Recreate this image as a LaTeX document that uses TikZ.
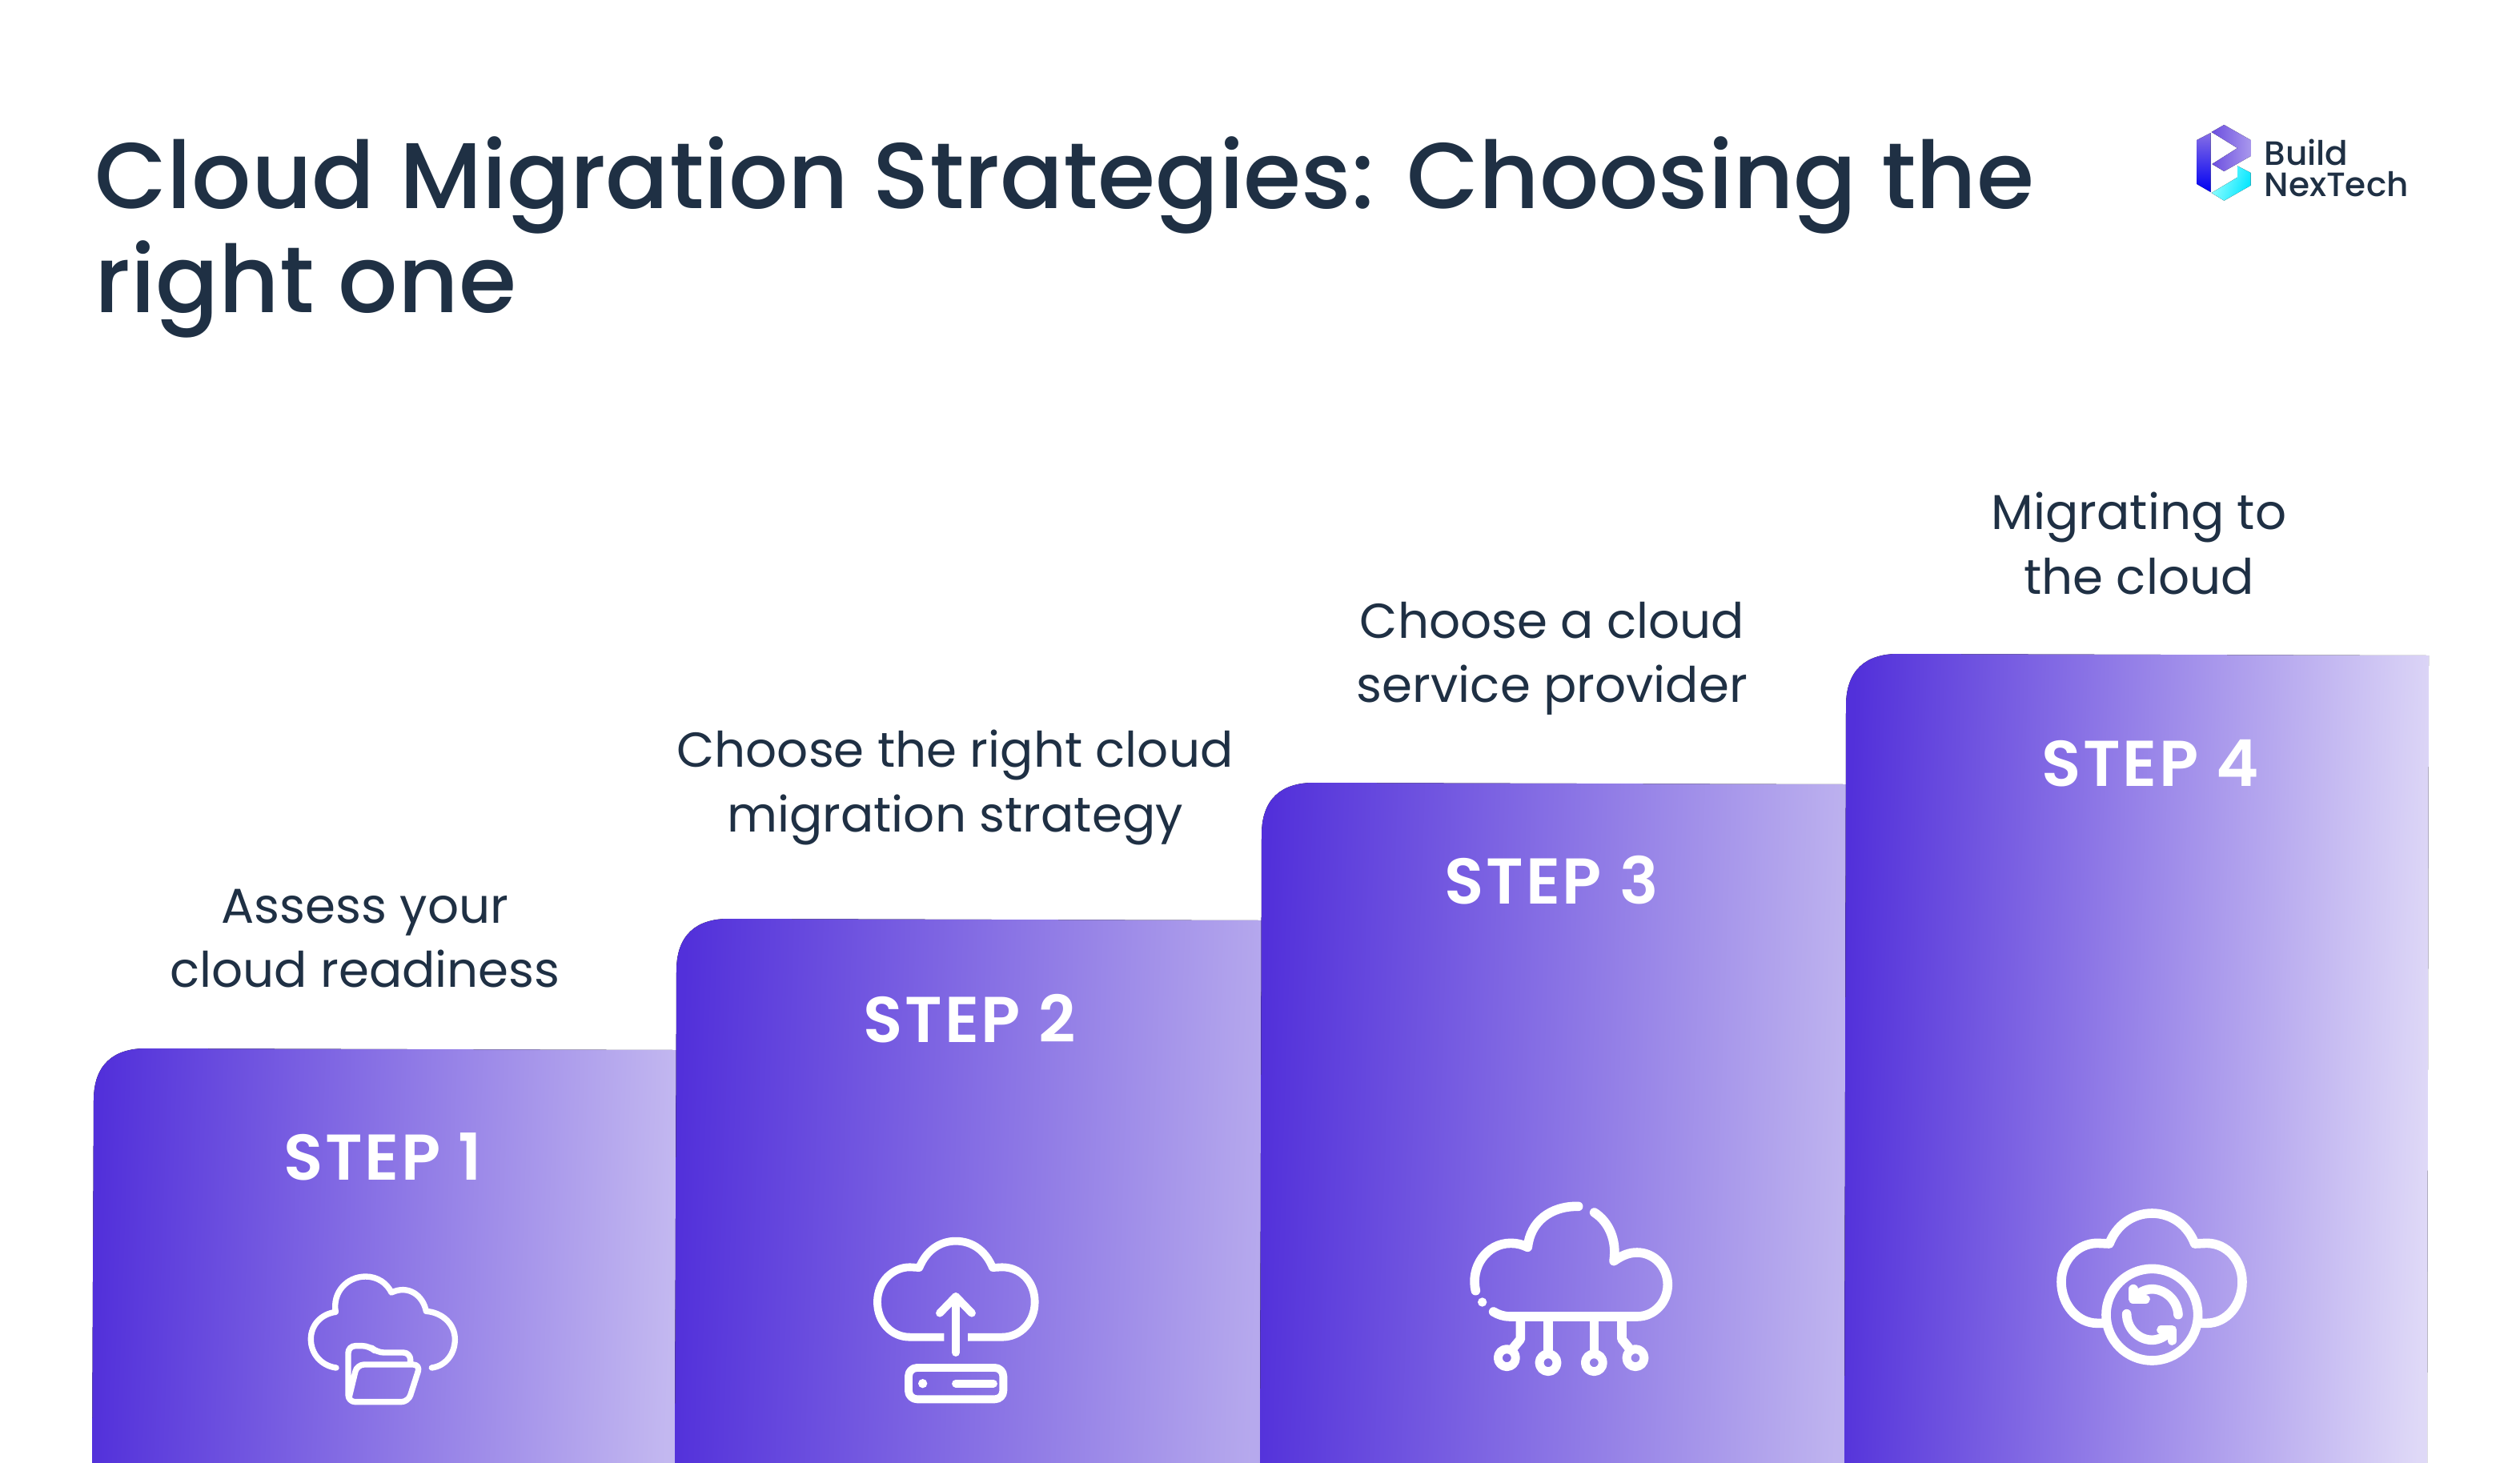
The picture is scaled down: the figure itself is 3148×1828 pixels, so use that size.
\documentclass[tikz,border=0pt]{standalone}
\usepackage{fontspec}
\setmainfont{Poppins}
\newfontfamily\titlefont{Poppins Medium}
\newfontfamily\stepfont[LetterSpace=3.5]{Poppins SemiBold}
\definecolor{inkblue}{HTML}{1F3044}
\definecolor{stepblue}{HTML}{5230DA}
\tikzset{
  titletext/.style={inkblue, anchor=west, align=left, inner sep=0pt, font=\titlefont\fontsize{33.2}{37}\selectfont},
  desctext/.style={inkblue, align=center, inner sep=0pt, font=\fontsize{17.4}{22.8}\selectfont},
  steptext/.style={white, inner sep=0pt, font=\stepfont\fontsize{23}{23}\selectfont},
  brandtext/.style={inkblue, anchor=west, align=left, inner sep=0pt, font=\titlefont\fontsize{12}{11.1}\selectfont},
  iconline/.style={white, line cap=round, line join=round}
}
\begin{document}
\begin{tikzpicture}[x=0.1mm, y=-0.1mm]
  \useasboundingbox (0,0) rectangle (3148,1828);
  % Title
  \node[titletext] (title) at (118,296) {Cloud Migration Strategies: Choosing the\\right one};
  % Logo
  \begin{scope}[shift={(2680,130)}, scale=1/3]
    \fill[bottom color=blue!95!black, top color=stepblue!70!white] (193,135) -- (245,108) -- (245,330) -- (193,300) -- cycle;
    \fill[left color=stepblue!85!white, right color=stepblue!50!white] (248,105) -- (295,78) -- (395,135) -- (395,195) -- (295,252) -- (250,225) -- (345,165) -- cycle;
    \fill[left color=cyan!40!white, right color=cyan!90!blue, shading angle=70] (345,232) -- (395,258) -- (395,305) -- (295,362) -- (248,333) -- (345,275) -- cycle;
  \end{scope}
  \node[brandtext] (brand) at (2828,210) {Build\\NexTech};
  % Steps
  \foreach \i/\xa/\xb/\ytop/\rightcol/\xstep/\ystep/\xdesc/\ydesc/\desc in {
    1/117/845/1310/C3B8F0/478/1445/456/1173/{Assess your\\cloud readiness},
    2/845/1576/1148/B6A9ED/1211/1273/1193/984/{Choose the right cloud\\migration strategy},
    3/1576/2306/978/BFB4EF/1938/1100/1939/823/{Choose a cloud\\service provider},
    4/2306/3034/817/DFD9F7/2686/954/2672/679/{Migrating to\\the cloud}} {
    \definecolor{rightcol}{HTML}{\rightcol}
    \fill[left color=stepblue, right color=rightcol, shading angle=88]
      (\xa-2,1828) -- (\xa,\ytop+65) .. controls (\xa,\ytop+20) and (\xa+25,\ytop) .. (\xa+65,\ytop)
      -- (\xb,\ytop+2) -- (\xb-2,1828) -- cycle;
    \node[steptext] (step\i) at (\xstep,\ystep) {STEP \i};
    \node[desctext] (desc\i) at (\xdesc,\ydesc) {\desc};
  }
  % Cloud with folder
  \begin{scope}[shift={(340,1560)}, scale=1/3, iconline, line width=2.1pt]
    \draw (240,447) .. controls (185,440) and (145,395) .. (145,340) .. controls (145,285) and (185,245) .. (238,238)
      .. controls (225,165) and (280,105) .. (350,105) .. controls (395,105) and (430,130) .. (447,165)
      .. controls (510,135) and (565,175) .. (577,235) .. controls (640,240) and (685,285) .. (685,340)
      .. controls (685,395) and (650,440) .. (598,447);
    \draw[rounded corners=2.5pt] (518,432) -- (518,390) -- (392,390) -- (365,365) -- (285,365) -- (285,575) -- (510,575) -- (555,435) -- (318,435) -- (289,555);
  \end{scope}
  % Cloud with upload
  \begin{scope}[shift={(1060,1520)}, scale=1/3, iconline, line width=2.8pt]
    \draw[line cap=butt] (358,452) -- (230,452) .. controls (160,452) and (108,395) .. (108,320) .. controls (108,245) and (165,190) .. (230,190)
      -- (265,192) .. controls (290,130) and (340,92) .. (402,92) .. controls (465,92) and (515,130) .. (540,192)
      -- (575,190) .. controls (645,190) and (698,245) .. (698,320) .. controls (698,395) and (645,452) .. (575,452) -- (447,452);
    \draw (402,510) -- (402,300);
    \draw (342,362) -- (402,300) -- (462,362);
    \draw[rounded corners=3pt] (225,567) rectangle (580,685);
    \fill[white] (278,626) circle (17);
    \draw (402,626) -- (543,626);
  \end{scope}
  % Cloud with network legs
  \begin{scope}[shift={(1800,1480)}, scale=1/3, iconline, line width=3.3pt]
    \draw (130,398) .. controls (110,310) and (170,220) .. (262,220) .. controls (285,220) and (305,225) .. (325,235)
      .. controls (335,140) and (410,80) .. (515,82);
    \draw (575,105) .. controls (630,140) and (660,210) .. (648,287) .. controls (680,265) and (705,255) .. (735,255)
      .. controls (800,255) and (850,310) .. (850,375) .. controls (850,440) and (800,495) .. (735,495)
      -- (260,495) .. controls (235,495) and (215,488) .. (197,477);
    \fill[white] (155,441) circle (17);
    \draw (298,495) -- (298,580) -- (265,620);
    \draw (402,495) -- (402,630);
    \draw (574,495) -- (574,630);
    \draw (678,495) -- (678,580) -- (710,620);
    \foreach \cx/\cy in {247/650, 402/668, 574/668, 729/650} {
      \draw[line width=3.1pt] (\cx,\cy) circle (33);
    }
  \end{scope}
  % Cloud with sync arrows
  \begin{scope}[shift={(2540,1490)}, scale=1/3, iconline, line width=3.3pt]
    \draw (262,490) -- (240,490) .. controls (165,490) and (105,420) .. (105,335) .. controls (105,250) and (170,190) .. (240,190)
      -- (285,192) .. controls (310,125) and (370,78) .. (445,78) .. controls (520,78) and (580,125) .. (605,192)
      -- (650,190) .. controls (725,190) and (783,255) .. (783,335) .. controls (783,420) and (725,490) .. (650,490) -- (630,490);
    \draw (445,458) circle (172);
    \draw (543,458) .. controls (540,400) and (490,362) .. (445,362) .. controls (420,362) and (395,375) .. (378,395);
    \draw (375,362) -- (375,400) -- (420,400);
    \draw (350,455) .. controls (350,510) and (395,553) .. (445,553) .. controls (470,553) and (495,540) .. (515,518);
    \draw (520,555) -- (520,515) -- (480,515);
  \end{scope}
\end{tikzpicture}
\end{document}
